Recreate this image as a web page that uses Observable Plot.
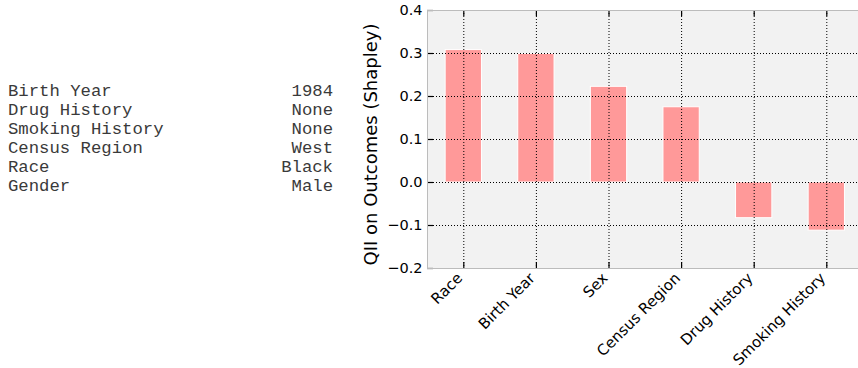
<!DOCTYPE html>
<html>
<head>
<meta charset="utf-8">
<script src="https://cdn.jsdelivr.net/npm/d3@7"></script>
<script src="https://cdn.jsdelivr.net/npm/@observablehq/plot@0.6"></script>
<style>
  html, body { margin: 0; padding: 0; background: #fff; }
  #wrap { position: relative; width: 858px; height: 368px; overflow: hidden; }
  #chart { position: absolute; left: 0; top: 0; width: 863px; }
  #chart svg { max-width: none !important; width: 863px; height: 368px; font-family: "DejaVu Sans", sans-serif; }
  #profile { position: absolute; left: 8px; top: 83px; width: 325px;
    font-family: "Liberation Mono", monospace; font-size: 17.3px; line-height: 18.9px; color: #3a3a3a; }
  #profile .row { display: flex; justify-content: space-between; white-space: pre; }
</style>
</head>
<body>
<div id="wrap">
  <div id="chart"></div>
  <div id="profile"></div>
</div>
<script>
// Profile table (left)
const profileLabels = ["Birth Year", "Drug History", "Smoking History", "Census Region", "Race", "Gender"];
const profileValues = ["1984", "None", "None", "West", "Black", "Male"];

// Bar chart data
const features = ["Race", "Birth Year", "Sex", "Census Region", "Drug History", "Smoking History"];
const values = [0.308, 0.299, 0.2225, 0.175, -0.083, -0.112];
const yTicks = [-0.2, -0.1, 0.0, 0.1, 0.2, 0.3, 0.4];

const prof = document.getElementById("profile");
profileLabels.forEach((lab, i) => {
  const row = document.createElement("div");
  row.className = "row";
  const a = document.createElement("span"); a.textContent = lab;
  const b = document.createElement("span"); b.textContent = profileValues[i];
  row.appendChild(a); row.appendChild(b);
  prof.appendChild(row);
});

const data = features.map((f, i) => ({feature: f, i, value: values[i]}));
const idx = features.map((f, i) => i);
const fmt = d3.format(".1f");
const FONT = "DejaVu Sans";

const plotW = 863, mL = 427, mR = 0.4, mT = 10, mB = 100;
const innerW = plotW - mL - mR;
const innerH = 368 - mT - mB;

const chart = Plot.plot({
  width: plotW,
  height: 368,
  marginLeft: mL,
  marginRight: mR,
  marginTop: mT,
  marginBottom: mB,
  style: {fontFamily: FONT, background: "transparent", overflow: "visible", maxWidth: "none"},
  x: {type: "linear", domain: [-0.5, 5.5], axis: null},
  y: {type: "linear", domain: [-0.2, 0.4], axis: null},
  marks: [
    Plot.frame({fill: "#f2f2f2", stroke: null}),
    Plot.rect(data, {x1: d => d.i - 0.25, x2: d => d.i + 0.25, y1: 0, y2: "value",
      fill: "#ff9999", stroke: "#ffffff", strokeWidth: 1}),
    Plot.ruleX(idx, {x: d => d, stroke: "#000", strokeWidth: 1, strokeDasharray: "1,2"}),
    Plot.ruleY(yTicks, {y: d => d, stroke: "#000", strokeWidth: 1, strokeDasharray: "1,2"}),
    Plot.tickX(idx, {x: d => d, stroke: "#000", strokeWidth: 1.2, insetTop: innerH - 6}),
    Plot.tickX(idx, {x: d => d, stroke: "#000", strokeWidth: 1.2, insetBottom: innerH - 6}),
    Plot.tickY(yTicks, {y: d => d, stroke: "#000", strokeWidth: 1.2, insetRight: innerW - 6}),
    Plot.frame({stroke: "#bcbcbc", strokeWidth: 1}),
    Plot.text(yTicks, {y: d => d, text: d => fmt(d), frameAnchor: "left", textAnchor: "end",
      dx: -5, fontSize: 14.5, fontFamily: FONT, fill: "#000"}),
    Plot.text(data, {x: "i", y: -0.2, text: "feature", rotate: -45, textAnchor: "end",
      lineAnchor: "top", dx: -8, dy: 3, fontSize: 15, fontFamily: FONT, fill: "#000"}),
    Plot.text(["QII on Outcomes (Shapley)"], {text: d => d, frameAnchor: "left", rotate: -90,
      textAnchor: "middle", dx: -56, dy: 5, fontSize: 18, fontFamily: FONT, fill: "#000"})
  ]
});
document.getElementById("chart").appendChild(chart);
</script>
</body>
</html>
